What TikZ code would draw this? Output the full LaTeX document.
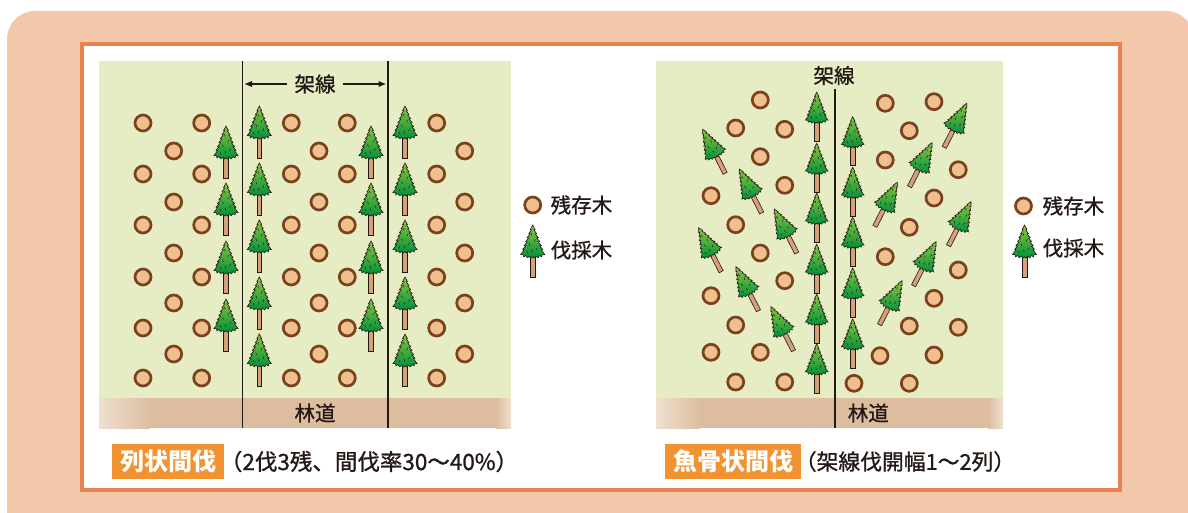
\documentclass[tikz,border=0pt]{standalone}
\usepackage{fontspec}
\usetikzlibrary{arrows.meta}
\newfontfamily\jp{Noto Sans CJK JP}[FakeBold=1.0]
\newfontfamily\jpx{Noto Sans CJK JP}
\definecolor{peach}{HTML}{F2C7AA}
\definecolor{frameor}{HTML}{E6834F}
\definecolor{meadow}{HTML}{E6EDC5}
\definecolor{road}{HTML}{DDBDA0}
\definecolor{roadpale}{HTML}{EEE0D0}
\definecolor{ink}{HTML}{231815}
\definecolor{stumpc}{HTML}{F0BF8E}
\definecolor{ringc}{HTML}{7A421C}
\definecolor{firtop}{HTML}{8CC63F}
\definecolor{firbot}{HTML}{00913A}
\definecolor{trunkc}{HTML}{D6A07B}
\definecolor{tagor}{HTML}{F29331}
\tikzset{
  stump/.style={draw=ringc, line width=2.7pt, fill=stumpc},
  cable/.style={draw=ink, line width=1.8pt},
  arr/.style={draw=ink, line width=1.4pt, -{Latex[length=8pt,width=6.5pt]}, shorten >=1.5pt},
  lbl/.style={inner sep=0pt, text=ink, font=\jp\fontsize{20.5}{20.5}\selectfont},
  captext/.style={inner sep=0pt, text=ink, font=\jp\fontsize{22.5}{22.5}\selectfont},
  tagbox/.style={fill=tagor, inner sep=0pt, minimum height=35pt, text=white,
              font=\jpx\bfseries\fontsize{24}{24}\selectfont},
  fir/.pic={
    \filldraw[fill=trunkc, draw=ink, line width=0.6pt] (-2.4,30) rectangle (2.4,52);
    \shadedraw[top color=firtop, bottom color=firbot, draw=ink, line width=0.6pt]
      (0,0) -- (2.4,4.6) -- (1.3,4.9) -- (3.9,8.6) -- (2.7,9.0) -- (5.6,12.6) -- (4.0,13.0)
      -- (7.0,16.4) -- (5.5,16.9) -- (8.6,20.6) -- (6.9,21.0)
      -- (10.0,24.2) -- (8.5,24.7) -- (12.0,29.5) -- (9.6,29.6) -- (9.0,31.8) -- (7.0,30.6)
      -- (5.2,32.8) -- (3.2,31.3) -- (1.6,33.0) -- (0,31.8)
      -- (-1.6,33.0) -- (-3.2,31.3) -- (-5.2,32.8) -- (-7.0,30.6) -- (-9.0,31.8) -- (-9.6,29.6)
      -- (-12.0,29.5) -- (-8.5,24.7) -- (-10.0,24.2) -- (-6.9,21.0) -- (-8.6,20.6)
      -- (-5.5,16.9) -- (-7.0,16.4) -- (-4.0,13.0) -- (-5.6,12.6) -- (-2.7,9.0) -- (-3.9,8.6)
      -- (-1.3,4.9) -- (-2.4,4.6) -- cycle;
    \draw[ink, line width=0.5pt]
      (-1.5,8) -- (-0.8,10.5) (2.5,14) -- (1.8,16.5) (-3.5,18.5) -- (-2.6,21)
      (4.5,22.5) -- (3.7,25) (-1,25) -- (-0.3,27.5) (-6,26) -- (-5.2,28.3);
  }
}
\begin{document}
\begin{tikzpicture}[x=1pt,y=-1pt]
\useasboundingbox (0,0) rectangle (1188,512);

% outer band and framed sheet
\fill[peach, rounded corners=28pt] (7,11) rectangle (1194,560);
\filldraw[fill=white, draw=frameor, line width=4pt] (82,43.7) rectangle (1120.3,489.7);

% ---------------- row thinning field ----------------
\fill[meadow] (99,61) rectangle (511,398);
\fill[road] (99,398) rectangle (511,428);
\shade[left color=roadpale, right color=road] (99,398) rectangle (150,428);
\shade[left color=road, right color=roadpale] (496,398) rectangle (511,428);

% remaining trees (stumps seen from above)
\foreach \x in {143,201.7,291.3,347.3,436.7}
  \foreach \y in {123,174,225,277,328,378}
    \draw[stump] (\x,\y) circle[radius=8];
\foreach \x in {173.7,319,464.7}
  \foreach \y in {151,202,253,303,354}
    \draw[stump] (\x,\y) circle[radius=8];

% felled rows
\foreach \x in {226,371}
  \foreach \y in {126,183,241,299}
    \pic at (\x,\y) {fir};
\foreach \x in {259.3,405}
  \foreach \y in {106,163,220,277,334}
    \pic at (\x,\y) {fir};

% cable lines
\coordinate (cA1) at (242.5,61);  \coordinate (cA2) at (242.5,428);
\coordinate (cB1) at (388,61);    \coordinate (cB2) at (388,428);
\draw[cable] (cA1) -- (cA2);
\draw[cable] (cB1) -- (cB2);

\node[lbl] (kasenL) at (315,84) {架線};
\draw[arr] ([xshift=-7pt]kasenL.west) -- (cA1 |- kasenL);
\draw[arr] ([xshift=7pt]kasenL.east) -- (cB1 |- kasenL);
\node[lbl] (rinL) at (315,413) {林道};

% legend
\draw[stump] (532.7,205) circle[radius=8];
\pic at (532.7,225) {fir};
\node[lbl, anchor=west] (legLa) at (550.5,205) {残存木};
\node[lbl, anchor=west] (legLb) at (550.5,250) {伐採木};

% caption
\node[tagbox, minimum width=111.7pt] (tagL) at (168.2,461.5) {列状間伐};
\node[captext] (capL) at (369,461.5) {（2伐3残、間伐率30〜40\%）};

% ---------------- herringbone thinning field ----------------
\fill[meadow] (656,61) rectangle (1003,398);
\fill[road] (656,398) rectangle (1003,428);
\shade[left color=roadpale, right color=road] (656,398) rectangle (700,428);
\shade[left color=road, right color=roadpale] (988,398) rectangle (1003,428);

\foreach \x/\y in {760.3/100, 735.7/128, 784.7/129.3, 760.3/156.7, 784.7/185.3, 711/195.7,
    735.7/224.7, 760.3/253, 784.7/280.7, 711/295.7, 735.7/325, 711/352.3, 760.3/352.3,
    735.7/382, 784.7/382,
    885.3/103.3, 934/101.7, 909.3/130.7, 885.3/160, 958.3/169.7, 934/198, 909.3/227.3,
    885.3/256.7, 958.3/270, 934/298.3, 909.3/326, 958.3/327.3, 880/355.7, 934/355,
    854/383.3, 909.3/383.3}
  \draw[stump] (\x,\y) circle[radius=8];

% trees felled along the cable
\foreach \y in {92.3,143.3,193.3,244.3,294.3,344}
  \pic[scale=0.94] at (816.7,\y) {fir};
\foreach \y in {116.7,167.3,217.3,268,319}
  \pic[scale=0.94] at (852.7,\y) {fir};

% side branches of the herringbone
\foreach \x/\y in {702.7/129.3, 739.3/169, 774.3/209, 698.7/227.7, 736/266.7, 771/306.7}
  \pic[rotate=27, scale=0.95] at (\x,\y) {fir};
\foreach \x/\y in {966.7/103.3, 932/142.7, 897.3/182.3, 971/201.7, 936/241.7, 902/280.7}
  \pic[rotate=-27, scale=0.95] at (\x,\y) {fir};

\coordinate (cC1) at (835,89); \coordinate (cC2) at (835,428);
\draw[cable] (cC1) -- (cC2);
\node[lbl] (kasenR) at (834,75.5) {架線};
\node[lbl] (rinR) at (868.3,413) {林道};

% legend
\draw[stump] (1023.5,206) circle[radius=8];
\pic at (1024.5,225) {fir};
\node[lbl, anchor=west] (legRa) at (1042.5,206) {残存木};
\node[lbl, anchor=west] (legRb) at (1042.5,248) {伐採木};

% caption
\node[tagbox, minimum width=136pt] (tagR) at (733,461.5) {魚骨状間伐};
\node[captext, font=\jp\fontsize{21.8}{21.8}\selectfont] (capR) at (905,461.5) {（架線伐開幅1〜2列）};

\end{tikzpicture}
\end{document}
